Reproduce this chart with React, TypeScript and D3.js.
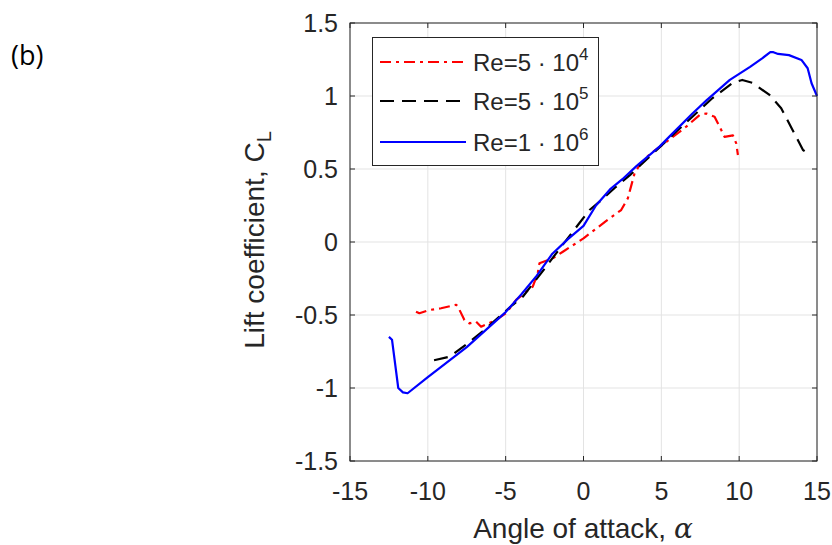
import React from "react";
import * as d3 from "d3";

const xTicks = [-15, -10, -5, 0, 5, 10, 15];
const yTicks = [-1.5, -1, -0.5, 0, 0.5, 1, 1.5];

const redX = [-10.76, -10.54, -9.9, -9.15, -8.18, -8.08, -7.65, -7.33, -6.9, -6.58, -5.61, -4.97, -4.33, -3.26, -2.94, -2.83, -1.97, -1.3, 0, 1.4, 2.42, 2.85, 3.28, 3.6, 4.24, 5.0, 6.6, 7.46, 7.89, 8.42, 8.85, 9.06, 9.6, 9.81, 9.92];
const redY = [-0.477, -0.488, -0.466, -0.454, -0.43, -0.44, -0.534, -0.557, -0.546, -0.58, -0.534, -0.487, -0.397, -0.306, -0.214, -0.146, -0.112, -0.065, 0.025, 0.14, 0.219, 0.3, 0.47, 0.527, 0.6, 0.66, 0.79, 0.87, 0.88, 0.858, 0.767, 0.72, 0.73, 0.676, 0.596];

const blackX = [-9.6, -8.6, -7.3, -6.5, -4.54, -3.9, -2.4, -1.76, -0.26, 0.39, 1.03, 2.0, 3.0, 4.0, 5.0, 6.0, 7.46, 8.29, 9.58, 10.2, 10.86, 11.95, 12.7, 13.43, 14.1, 14.42];
const blackY = [-0.81, -0.786, -0.683, -0.614, -0.43, -0.375, -0.169, -0.078, 0.13, 0.219, 0.276, 0.37, 0.46, 0.56, 0.66, 0.76, 0.904, 0.986, 1.09, 1.11, 1.09, 1.007, 0.916, 0.767, 0.63, 0.607];

const blueX = [-12.5, -12.3, -11.9, -11.6, -11.3, -10, -7.5, -5, -4, -3, -2, -1, 0, 0.8, 1.7, 2.5, 3.4, 4.9, 5.5, 7, 7.9, 9.4, 10.7, 11.5, 12, 12.2, 12.5, 13.2, 14, 14.4, 14.65, 15];
const blueY = [-0.65, -0.67, -1.0, -1.03, -1.036, -0.925, -0.72, -0.48, -0.36, -0.23, -0.08, 0.02, 0.11, 0.25, 0.36, 0.43, 0.52, 0.655, 0.72, 0.88, 0.97, 1.11, 1.2, 1.26, 1.3, 1.3, 1.288, 1.28, 1.247, 1.19, 1.087, 1.0];

const seriesNames = ["Re=5 · 10", "Re=5 · 10", "Re=1 · 10"];
const seriesExp = ["4", "5", "6"];

const W = 832;
const H = 545;
const FONT = "'Liberation Sans', Arial, Helvetica, sans-serif";

export default function App() {
  const x = d3.scaleLinear().domain([-15, 15]).range([350, 817]);
  const y = d3.scaleLinear().domain([-1.5, 1.5]).range([461, 23]);
  const line = d3
    .line<[number, number]>()
    .x((d) => x(d[0]))
    .y((d) => y(d[1]));

  const series = [
    { xs: redX, ys: redY, color: "#ff0000", dash: "11,5,3,5" },
    { xs: blackX, ys: blackY, color: "#000000", dash: "14,8" },
    { xs: blueX, ys: blueY, color: "#0000ff", dash: "none" },
  ];

  const [x0, x1] = x.range();
  const [y0, y1] = y.range();
  const axisColor = "#262626";
  const tickLen = 5;

  const legendRows = [62, 101, 142];

  return (
    <svg
      width={W}
      height={H}
      style={{ position: "absolute", left: 0, top: 0, background: "#fff" }}
    >
      <rect x={0} y={0} width={W} height={H} fill="#fff" />
      <text x={11} y={65} fontFamily="'Open Sans', 'Noto Sans', sans-serif" fontSize={27} fill="#000">
        (b)
      </text>

      {/* grid */}
      {xTicks.map((t) => (
        <line key={"gx" + t} x1={x(t)} x2={x(t)} y1={y1} y2={y0} stroke="#e3e3e3" strokeWidth={1} />
      ))}
      {yTicks.map((t) => (
        <line key={"gy" + t} x1={x0} x2={x1} y1={y(t)} y2={y(t)} stroke="#e3e3e3" strokeWidth={1} />
      ))}

      {/* curves */}
      {series.map((s, i) => (
        <path
          key={"s" + i}
          d={line(s.xs.map((v, j) => [v, s.ys[j]] as [number, number])) || ""}
          fill="none"
          stroke={s.color}
          strokeWidth={2.2}
          strokeDasharray={s.dash}
          strokeLinejoin="round"
        />
      ))}

      {/* ticks */}
      {xTicks.map((t) => (
        <g key={"tx" + t}>
          <line x1={x(t)} x2={x(t)} y1={y0} y2={y0 - tickLen} stroke={axisColor} />
          <line x1={x(t)} x2={x(t)} y1={y1} y2={y1 + tickLen} stroke={axisColor} />
          <text
            x={x(t)}
            y={y0 + 39}
            textAnchor="middle"
            fontFamily={FONT}
            fontSize={25}
            fill={axisColor}
          >
            {String(t)}
          </text>
        </g>
      ))}
      {yTicks.map((t) => (
        <g key={"ty" + t}>
          <line x1={x0} x2={x0 + tickLen} y1={y(t)} y2={y(t)} stroke={axisColor} />
          <line x1={x1} x2={x1 - tickLen} y1={y(t)} y2={y(t)} stroke={axisColor} />
          <text
            x={338}
            y={y(t) + 9}
            textAnchor="end"
            fontFamily={FONT}
            fontSize={25}
            fill={axisColor}
          >
            {String(t)}
          </text>
        </g>
      ))}

      {/* box */}
      <rect x={x0} y={y1} width={x1 - x0} height={y0 - y1} fill="none" stroke={axisColor} strokeWidth={1} />

      {/* axis labels */}
      <text x={583} y={538} textAnchor="middle" fontFamily={FONT} fontSize={28} fill={axisColor}>
        Angle of attack,{" "}
        <tspan fontFamily="'DejaVu Serif', 'Liberation Serif', serif" fontStyle="italic">
          α
        </tspan>
      </text>
      <text
        transform="translate(264,240) rotate(-90)"
        textAnchor="middle"
        fontFamily={FONT}
        fontSize={28}
        fill={axisColor}
      >
        Lift coefficient, C
        <tspan fontSize={20} dy={7}>
          L
        </tspan>
      </text>

      {/* legend */}
      <rect x={372.5} y={37.5} width={226} height={128} fill="#fff" stroke={axisColor} strokeWidth={1} />
      {series.map((s, i) => (
        <g key={"lg" + i}>
          <line
            x1={380}
            x2={466}
            y1={legendRows[i]}
            y2={legendRows[i]}
            stroke={s.color}
            strokeWidth={2.2}
            strokeDasharray={s.dash}
          />
          <text x={473} y={legendRows[i] + 9} fontFamily={FONT} fontSize={24} fill={axisColor}>
            {seriesNames[i]}
            <tspan fontSize={17} dy={-11}>
              {seriesExp[i]}
            </tspan>
          </text>
        </g>
      ))}
    </svg>
  );
}
